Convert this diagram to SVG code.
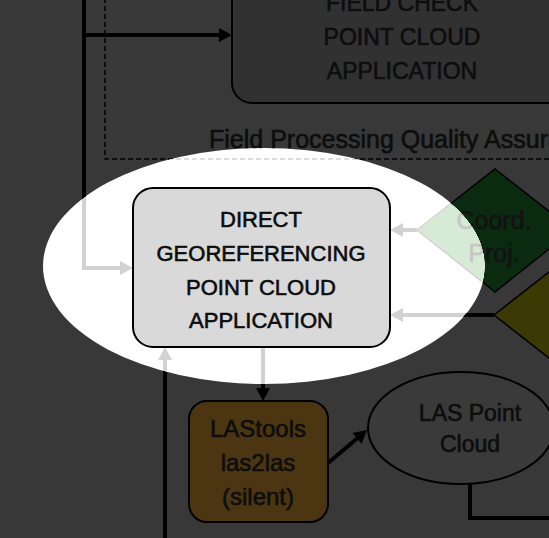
<svg xmlns="http://www.w3.org/2000/svg" width="549" height="538" viewBox="0 0 549 538">
<style>
  text { font-family: "Liberation Sans", Arial, sans-serif; text-anchor: middle; }
  .lbl { fill: #0d0d0d; stroke: #0d0d0d; stroke-width: 0.6; }
  .soft { fill: url(#gText); stroke: url(#gText); stroke-width: 0.6; }
  .edge { fill: none; stroke: url(#gLine); stroke-width: 4; }
  .node { stroke: #000000; stroke-width: 2; }
</style>
<defs>
  <radialGradient id="gLine" gradientUnits="userSpaceOnUse" cx="264" cy="266" r="221" fx="264" fy="266" gradientTransform="matrix(1 0 0 0.534 0 123.96)">
    <stop offset="0" stop-color="#d2d2d2"/><stop offset="0.998" stop-color="#d2d2d2"/><stop offset="1" stop-color="#000000"/>
  </radialGradient>
  <radialGradient id="gGreen" gradientUnits="userSpaceOnUse" cx="264" cy="266" r="221" fx="264" fy="266" gradientTransform="matrix(1 0 0 0.534 0 123.96)">
    <stop offset="0" stop-color="#d6ead5"/><stop offset="0.998" stop-color="#d6ead5"/><stop offset="1" stop-color="#0b2b10"/>
  </radialGradient>
  <radialGradient id="gText" gradientUnits="userSpaceOnUse" cx="264" cy="266" r="221" fx="264" fy="266" gradientTransform="matrix(1 0 0 0.534 0 123.96)">
    <stop offset="0" stop-color="#c6c6c6"/><stop offset="0.998" stop-color="#c6c6c6"/><stop offset="1" stop-color="#121212"/>
  </radialGradient>
  <marker id="arrowDark" markerUnits="userSpaceOnUse" markerWidth="14" markerHeight="14" refX="5" refY="7" orient="auto" overflow="visible">
    <path d="M0,0 L13,7 L0,14 z" fill="#000000"/>
  </marker>
  <marker id="arrowLight" markerUnits="userSpaceOnUse" markerWidth="14" markerHeight="14" refX="5" refY="7" orient="auto" overflow="visible">
    <path d="M0,0 L13,7 L0,14 z" fill="#d2d2d2"/>
  </marker>
</defs>

<rect x="0" y="0" width="549" height="538" fill="#383838"/>
<ellipse id="spotlight" cx="264" cy="266" rx="221" ry="118" fill="#ffffff"/>

<g id="qa-frame">
  <path d="M105,-10 V159 H560" fill="none" stroke="url(#gLine)" stroke-width="1.5" stroke-dasharray="5 3"/>
  <text x="209" y="148" font-size="25" class="lbl" style="text-anchor:start">Field Processing Quality Assurance</text>
</g>

<g id="connectors">
  <path class="edge" d="M84,-10 V268 H125" marker-end="url(#arrowLight)"/>
  <path class="edge" d="M84,35 H224" marker-end="url(#arrowDark)"/>
  <path class="edge" d="M165,545 V355" marker-end="url(#arrowLight)"/>
  <path class="edge" d="M263,347 V393" marker-end="url(#arrowDark)"/>
  <path class="edge" d="M417,230 H398" marker-end="url(#arrowLight)"/>
  <path class="edge" d="M494,315 H398" marker-end="url(#arrowLight)"/>
  <path class="edge" d="M328,463 L360.9,435.2" marker-end="url(#arrowDark)"/>
  <path class="edge" d="M470,484 V518 H560"/>
</g>

<g id="node-field-check">
  <rect class="node" x="232" y="-100" width="360" height="203" rx="20" fill="#313131"/>
  <text x="402" y="11" font-size="23" class="lbl">FIELD CHECK</text>
  <text x="402" y="45" font-size="23" class="lbl">POINT CLOUD</text>
  <text x="402" y="79" font-size="23" class="lbl">APPLICATION</text>
</g>

<g id="node-coord-proj">
  <polygon points="417,230 495,169 573,230 495,292" fill="url(#gGreen)" stroke="url(#gLine)" stroke-width="1.5"/>
  <text x="494" y="229" font-size="25" class="soft">Coord.</text>
  <text x="494" y="262" font-size="25" class="soft">Proj.</text>
</g>

<g id="node-decision-2">
  <polygon points="494,315 572,254 650,315 572,376" fill="#3c3a04" stroke="#000000" stroke-width="1.5"/>
</g>

<g id="node-lastools">
  <rect class="node" x="189" y="401" width="139" height="121" rx="18" fill="#4b3611"/>
  <text x="258" y="437" font-size="24" class="lbl">LAStools</text>
  <text x="258" y="471" font-size="24" class="lbl">las2las</text>
  <text x="258" y="505" font-size="24" class="lbl">(silent)</text>
</g>

<g id="node-las-point-cloud">
  <ellipse class="node" cx="461" cy="428" rx="93" ry="56" fill="#3a3a3a"/>
  <text x="470" y="421" font-size="23" class="lbl">LAS Point</text>
  <text x="470" y="452" font-size="23" class="lbl">Cloud</text>
</g>

<g id="node-direct-georef">
  <rect class="node" x="133" y="188" width="257" height="159" rx="20" fill="#d9d9d9"/>
  <text x="261" y="227" font-size="22" class="lbl">DIRECT</text>
  <text x="261" y="261" font-size="22" class="lbl">GEOREFERENCING</text>
  <text x="261" y="295" font-size="22" class="lbl">POINT CLOUD</text>
  <text x="261" y="328" font-size="22" class="lbl">APPLICATION</text>
</g>
</svg>
